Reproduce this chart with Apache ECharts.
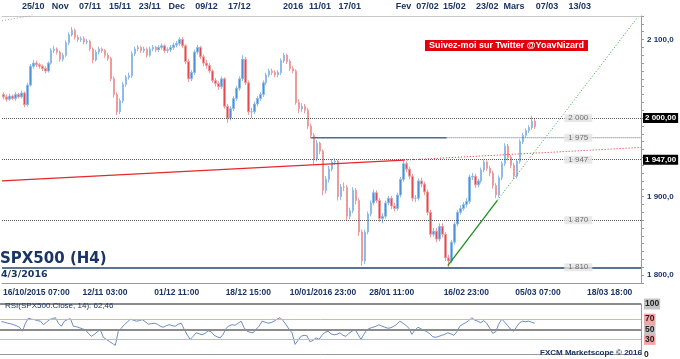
<!DOCTYPE html>
<html><head><meta charset="utf-8">
<script src="https://cdn.jsdelivr.net/npm/echarts@6/dist/echarts.min.js"></script>
<style>html,body{margin:0;padding:0;background:#fff}#c{width:680px;height:359px}</style>
</head><body><div id="c"></div><script>
const SLOTS = 214;
const firstOpen = 2030;
const closes = [2027,2024,2028,2025,2030,2027,2032,2017,2042,2066,
2070,2068,2066,2063,2060,2070,2086,2088,2084,2075,
2080,2096,2106,2112,2103,2100,2101,2097,2098,2088,
2074,2084,2088,2086,2080,2076,2050,2030,2008,2022,
2043,2052,2054,2082,2088,2090,2086,2088,2080,2088,
2090,2087,2090,2092,2086,2087,2090,2093,2095,2100,
2092,2072,2050,2058,2084,2090,2078,2070,2067,2060,
2048,2044,2040,2050,2015,2000,2012,2025,2038,2050,
2075,2045,2008,2008,2018,2025,2030,2045,2055,2060,
2058,2055,2058,2073,2080,2072,2063,2060,2020,2012,
2015,2010,1990,1978,1948,1968,1958,1908,1922,1935,
1944,1945,1900,1912,1912,1875,1882,1908,1895,1855,
1818,1855,1878,1892,1905,1895,1872,1875,1892,1898,
1888,1885,1902,1922,1942,1935,1926,1898,1898,1920,
1916,1906,1880,1852,1856,1846,1862,1852,1822,1818,
1842,1865,1880,1885,1890,1894,1925,1926,1915,1920,
1934,1944,1936,1930,1914,1902,1924,1942,1964,1950,
1940,1926,1945,1970,1978,1984,1988,1996,1989];
const highs = [2033,2030,2031,2030,2033,2032,2035,2034,2045,2069,
2074,2073,2070,2068,2066,2072,2089,2092,2090,2086,
2083,2099,2109,2116,2114,2106,2104,2104,2101,2100,
2090,2087,2091,2090,2088,2083,2078,2053,2033,2025,
2046,2055,2058,2085,2091,2093,2092,2091,2090,2091,
2093,2092,2093,2095,2094,2090,2093,2096,2098,2103,
2103,2094,2075,2061,2087,2093,2092,2081,2074,2070,
2062,2051,2047,2053,2052,2018,2015,2028,2041,2053,
2080,2078,2048,2013,2021,2028,2033,2048,2058,2063,
2063,2061,2061,2076,2083,2082,2075,2066,2062,2024,
2019,2018,2013,1993,1981,1972,1970,1960,1926,1939,
1948,1949,1947,1916,1918,1915,1886,1912,1911,1898,
1858,1858,1881,1895,1909,1908,1898,1879,1895,1901,
1901,1892,1905,1925,1947,1945,1938,1929,1902,1923,
1924,1919,1909,1883,1860,1860,1866,1866,1855,1826,
1845,1868,1883,1889,1893,1898,1928,1930,1929,1923,
1937,1947,1946,1939,1933,1917,1927,1945,1968,1967,
1953,1943,1948,1973,1981,1987,1991,2003,1999];
const lows = [2024,2021,2022,2023,2022,2025,2025,2014,2015,2040,
2063,2065,2063,2060,2057,2058,2068,2083,2081,2072,
2072,2078,2093,2104,2100,2097,2097,2094,2094,2085,
2070,2072,2081,2083,2077,2073,2047,2026,2004,2005,
2019,2040,2049,2051,2079,2085,2083,2083,2077,2078,
2085,2084,2084,2087,2083,2083,2084,2087,2090,2092,
2089,2069,2046,2047,2055,2081,2075,2066,2063,2057,
2045,2040,2036,2037,2012,1994,1997,2009,2022,2035,
2047,2042,2004,2000,2005,2015,2022,2027,2042,2052,
2055,2052,2052,2055,2070,2069,2060,2057,2017,2006,
2008,2006,1986,1974,1941,1945,1954,1902,1904,1918,
1932,1940,1895,1896,1907,1870,1871,1879,1890,1850,
1812,1814,1852,1875,1889,1892,1868,1866,1872,1889,
1884,1881,1882,1899,1919,1931,1922,1894,1893,1895,
1912,1902,1876,1848,1849,1842,1843,1848,1818,1810,
1815,1839,1862,1877,1882,1886,1891,1921,1911,1912,
1917,1931,1933,1926,1910,1898,1899,1921,1939,1946,
1936,1922,1923,1942,1967,1975,1981,1985,1986];
const rsi = [65,64,62,61,59,57,54,46,62,72,
70,69,67,66,59,64,69,71,73,62,
56,66,69,71,56,55,53,51,49,42,
36,40,45,49,34,30,26,22,18,46,
52,59,64,70,68,66,67,69,65,60,
61,62,60,56,54,57,59,57,56,60,
62,50,39,30,36,43,41,39,42,47,
45,38,35,33,40,52,57,59,58,62,
66,53,46,44,43,50,56,66,64,62,
63,66,70,73,67,59,50,43,20,28,
36,38,37,25,28,33,30,38,44,46,
41,39,40,43,38,36,42,46,50,40,
30,40,49,52,54,56,59,56,54,52,
53,56,60,66,62,58,52,40,48,54,
51,48,45,41,35,34,36,38,40,43,
41,38,45,56,60,63,67,73,68,66,
63,67,62,52,42,45,60,70,64,57,
50,46,55,63,66,65,66,64,62];
const topTicks = [[10,'25/10'],[19,'Nov'],[29,'07/11'],[39,'15/11'],[49,'23/11'],[58,'Dec'],[68,'09/12'],[79,'17/12'],[97,'2016'],[106,'11/01'],[116,'17/01'],[134,'Fev'],[142,'07/02'],[151,'15/02'],[162,'23/02'],[171,'Mars'],[182,'07/03'],[193,'13/03']];
const bottomTicks = [[11,'16/10/2015 07:00'],[34,'12/11 03:00'],[58,'01/12 11:00'],[82,'18/12 15:00'],[107,'10/01/2016 23:00'],[130,'28/01 11:00'],[155,'16/02 23:00'],[179,'05/03 07:00'],[203,'18/03 18:00']];
const levels = [2000,1975,1947,1870,1810];
const levelLabelSlot = 192.5;
const priceTicks = [1800,1900,2100];
const boxedLevels = [2000,1947];
const lastPrice = 1989.38;
const rsiTicks = [0,30,50,70,100];
const redTrend = [[-0.5,1920],[134.1,1946.5]];
const redTrendExt = [[134.1,1946.5],[213.5,1962.6]];
const greenTrend = [[148.8,1812],[165.4,1895.3]];
const greenTrendExt = [[165.4,1895.3],[212.3,2128]];
const grayTrend = [[-0.5,2124],[10,2131]];
const resistanceSeg = [[103,1975],[148.4,1975]];
const resistanceExt = [[148.4,1975],[213.5,1975]];

const NAVY = '#1b3466';
const FONT = 'Liberation Sans';
const idx = Array.from({length: SLOTS}, (_, i) => String(i));
const candles = closes.map((c, i) => [i === 0 ? firstOpen : closes[i - 1], c, lows[i], highs[i]]);
const topMap = Object.fromEntries(topTicks);
const botMap = Object.fromEntries(bottomTicks);
function th(v) { const s = String(Math.round(v)); return s.slice(0, -3) + ' ' + s.slice(-3); }
function price2(v) { const p = v.toFixed(2).split('.'); return th(+p[0]) + ',' + p[1]; }

const chart = echarts.init(document.getElementById('c'), null, {renderer: 'canvas'});
const lineS = (data, color, width, type) => ({
  type: 'line', xAxisIndex: 2, yAxisIndex: 0, data, symbol: 'none', showSymbol: false,
  lineStyle: {color, width, type}, silent: true, animation: false, z: 3
});
chart.setOption({
  animation: false,
  backgroundColor: '#fff',
  title: [
    {text: 'Suivez-moi sur Twitter @YoavNizard', left: 425, top: 40, padding: [1, 4], backgroundColor: '#e3000f',
     textStyle: {color: '#fff', fontSize: 9, fontWeight: 'bold', fontFamily: FONT}},
    {text: 'SPX500 (H4)', left: 0, top: 252, padding: 0,
     textStyle: {color: NAVY, fontSize: 15, fontWeight: 'bold', fontFamily: 'DejaVu Sans'}},
    {text: '4/3/2016', left: 1, top: 270, padding: 0,
     textStyle: {color: NAVY, fontSize: 9.5, fontWeight: 'bold', fontFamily: 'DejaVu Sans'}},
    {text: 'RSI(SPX500.Close, 14): 62,46', left: 5, top: 302, padding: 0,
     textStyle: {color: NAVY, fontSize: 8, fontWeight: 'normal', fontFamily: FONT}},
    {text: 'FXCM Marketscope © 2016', left: 540, top: 349, padding: 0,
     textStyle: {color: NAVY, fontSize: 8, fontWeight: 'bold', fontFamily: FONT}}
  ],
  grid: [
    {left: 0, top: 16, width: 641, height: 267},
    {left: 0, top: 304, width: 641, height: 51}
  ],
  xAxis: [
    {type: 'category', gridIndex: 0, data: idx, boundaryGap: true, position: 'bottom',
     axisLine: {onZero: false, lineStyle: {color: '#9a9a9a'}},
     axisTick: {interval: (i) => i % 10 === 9, length: 4, lineStyle: {color: '#9a9a9a'}},
     axisLabel: {interval: (i) => botMap[i] !== undefined, formatter: (v, i) => botMap[i] || '',
       color: NAVY, fontSize: 8.5, fontWeight: 'bold', fontFamily: FONT, margin: 5},
     splitLine: {show: false}},
    {type: 'category', gridIndex: 0, data: idx, boundaryGap: true, position: 'top',
     axisLine: {onZero: false, lineStyle: {color: '#c8c8c8'}},
     axisTick: {interval: (i) => i % 3 === 1, length: 4, lineStyle: {color: '#f0a030'}},
     axisLabel: {interval: (i) => topMap[i] !== undefined, formatter: (v, i) => topMap[i] || '',
       color: NAVY, fontSize: 9, fontWeight: 'bold', fontFamily: FONT, margin: 5},
     splitLine: {show: false}},
    {type: 'value', gridIndex: 0, min: -0.5, max: SLOTS - 0.5, show: false,
     axisLine: {onZero: false}, splitLine: {show: false}},
    {type: 'category', gridIndex: 1, data: idx, boundaryGap: true, show: false, axisLine: {onZero: false}}
  ],
  yAxis: [
    {type: 'value', gridIndex: 0, position: 'right', min: 1790, max: 2130, interval: 10,
     axisLine: {show: true, onZero: false, lineStyle: {color: '#9a9a9a'}},
     axisTick: {show: true, length: 3, lineStyle: {color: '#9a9a9a'}},
     axisLabel: {formatter: (v) => priceTicks.includes(v) ? th(v) + ',0' : '', color: NAVY,
       fontSize: 8, fontWeight: 'bold', fontFamily: FONT, margin: 6},
     splitLine: {show: false}},
    {type: 'value', gridIndex: 1, position: 'right', min: 0, max: 100, interval: 10,
     axisLine: {show: true, onZero: false, lineStyle: {color: '#9a9a9a'}},
     axisTick: {show: false},
     axisLabel: {margin: 3,
       formatter: (v) => !rsiTicks.includes(v) ? '' : (v === 70 || v === 30 ? '{r|' + v + '}' : (v === 0 ? '{z|' + v + '}' : '{g|' + v + '}')),
       rich: {
         g: {backgroundColor: '#c4c4c4', color: '#222', fontSize: 8.5, fontWeight: 'bold', fontFamily: FONT, padding: [1, 1]},
         r: {backgroundColor: '#f3a3a3', color: '#222', fontSize: 8.5, fontWeight: 'bold', fontFamily: FONT, padding: [1, 1]},
         z: {color: '#222', fontSize: 8.5, fontWeight: 'bold', fontFamily: FONT}
       }},
     splitLine: {show: false}}
  ],
  series: [
    {type: 'candlestick', xAxisIndex: 0, yAxisIndex: 0, data: candles, barWidth: 2,
     itemStyle: {color: '#4f8fd6', color0: '#e6484d', borderColor: '#8dbbea', borderColor0: '#f19a9c', borderWidth: 1},
     markLine: {silent: true, symbol: ['none', 'none'], animation: false,
       data: [
         ...levels.filter(v => v !== 1975).map(v => ({
           yAxis: v,
           lineStyle: v === 1810 ? {color: '#5a7391', width: 2, type: 'solid'} : {color: '#555', width: 1, type: [1, 1]},
           label: boxedLevels.includes(v) ? {show: true, position: 'end', distance: 2, formatter: (p) => price2(p.value),
             backgroundColor: '#000', color: '#fff', fontSize: 8, fontWeight: 'bold', fontFamily: FONT, padding: [1, 2]} : {show: false}
         })),
         {yAxis: lastPrice, lineStyle: {width: 0, opacity: 0},
          label: {show: true, position: 'end', distance: 2, formatter: (p) => price2(p.value),
            backgroundColor: '#58c4f0', color: NAVY, fontSize: 8, fontWeight: 'bold', fontFamily: FONT, padding: [1, 2]}}
       ]}},
    lineS(resistanceSeg, '#4f6a8a', 1.5, 'solid'),
    lineS(resistanceExt, '#4f6a8a', 1, [1, 1]),
    lineS(redTrend, '#e8262b', 1.3, 'solid'),
    lineS(redTrendExt, '#e8262b', 1, [1, 2]),
    lineS(greenTrend, '#1e8f1e', 1.3, 'solid'),
    lineS(greenTrendExt, '#2ea52e', 1, [1, 2]),
    lineS(grayTrend, '#a0a0a0', 1, [1, 2]),
    {type: 'scatter', xAxisIndex: 2, yAxisIndex: 0, silent: true, z: 5,
     data: levels.map(v => [levelLabelSlot, v]), symbolSize: 1, itemStyle: {color: 'rgba(0,0,0,0)'},
     label: {show: true, position: 'inside', formatter: (p) => th(p.value[1]),
       backgroundColor: '#e4e4e4', color: '#555', fontSize: 8, fontFamily: FONT, padding: [0, 4]}},
    {type: 'line', xAxisIndex: 3, yAxisIndex: 1, data: rsi, symbol: 'none', showSymbol: false,
     lineStyle: {color: '#6a8cc4', width: 1}, silent: true,
     markLine: {silent: true, symbol: ['none', 'none'], label: {show: false}, animation: false,
       data: [
         {yAxis: 100, lineStyle: {color: '#8c8c8c', width: 2, type: 'solid'}},
         {yAxis: 70, lineStyle: {color: '#f4a6a6', width: 1, type: 'solid'}},
         {yAxis: 50, lineStyle: {color: '#8c8c8c', width: 2, type: 'solid'}},
         {yAxis: 30, lineStyle: {color: '#f4a6a6', width: 1, type: 'solid'}},
         {yAxis: 0, lineStyle: {color: '#9a9a9a', width: 1, type: 'solid'}}
       ]}}
  ]
});
</script></body></html>
